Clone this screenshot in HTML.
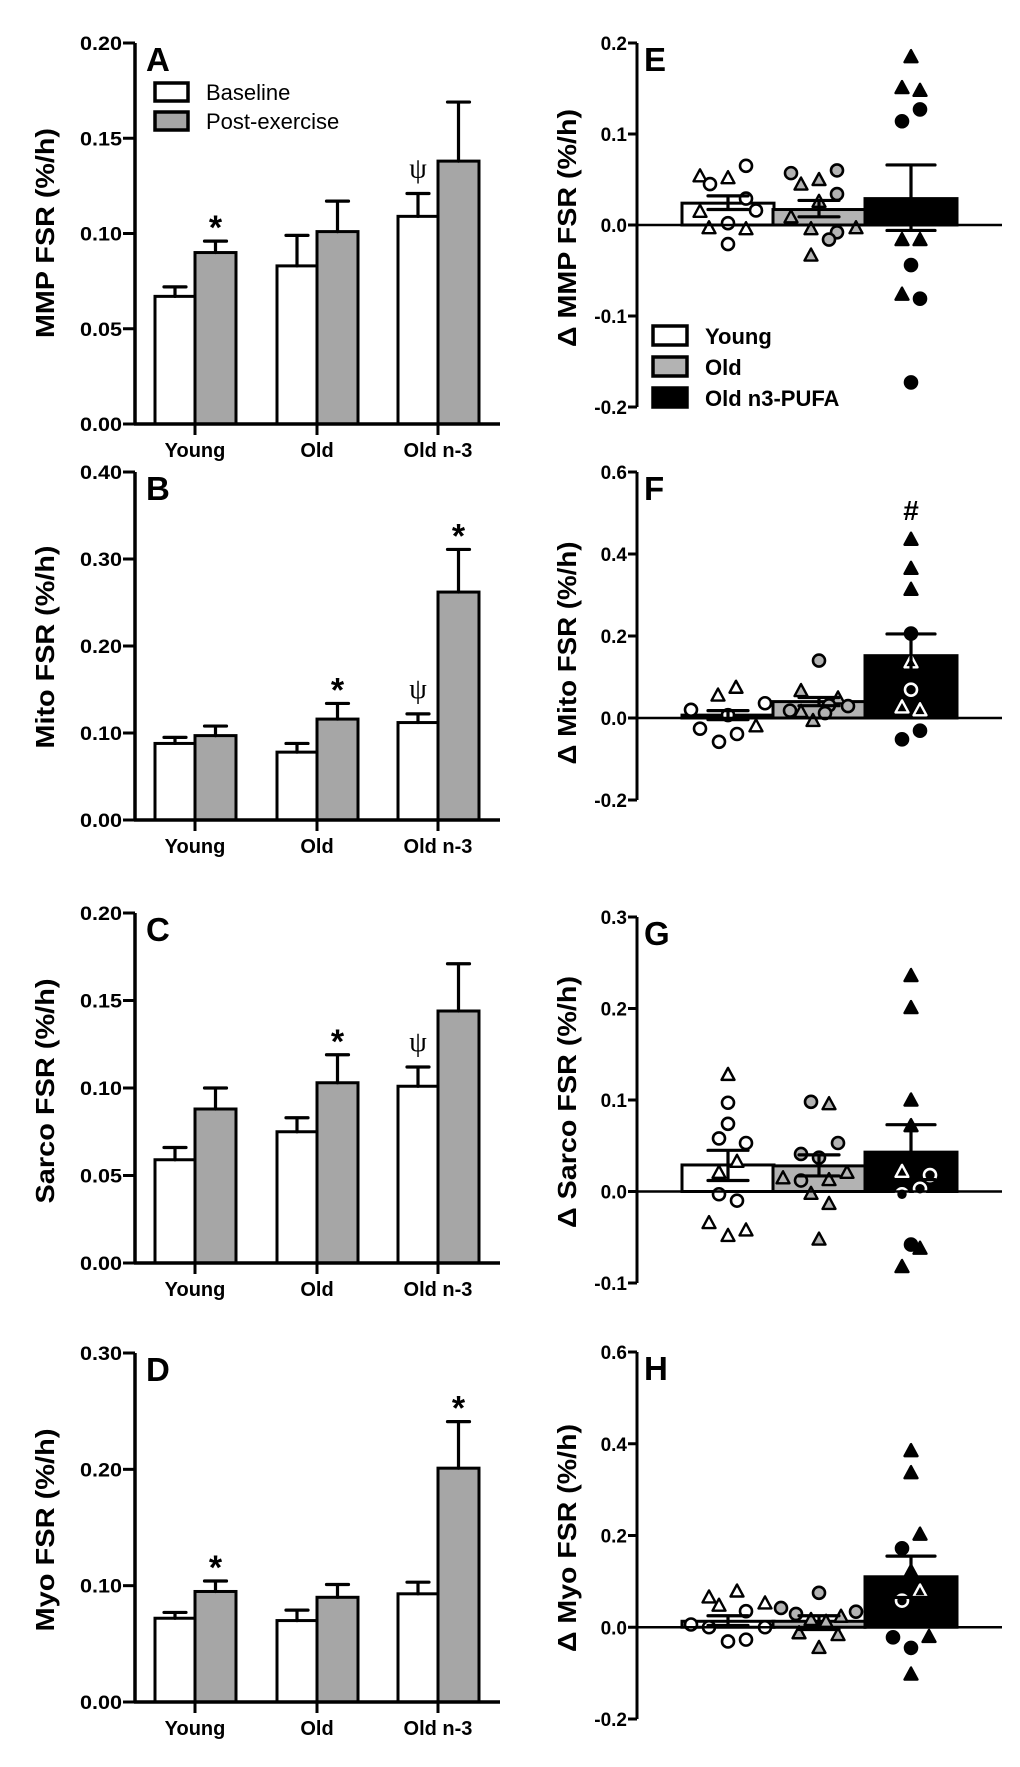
<!DOCTYPE html>
<html><head><meta charset="utf-8">
<style>
html,body{margin:0;padding:0;background:#fff;}
svg{display:block;font-family:"Liberation Sans",Arial,sans-serif;}
</style></head>
<body>
<svg id="fig" xmlns="http://www.w3.org/2000/svg" width="1020" height="1767" viewBox="0 0 1020 1767">
<rect x="0" y="0" width="1020" height="1767" fill="#fff"/>
</svg>
<script>
// ---------- data: left panels (group means, SEM tops) ----------
const categories = ['Young', 'Old', 'Old n-3'];
const A_base = [0.067, 0.083, 0.109];
const A_baseTop = [0.072, 0.099, 0.121];
const A_post = [0.090, 0.101, 0.138];
const A_postTop = [0.096, 0.117, 0.169];
const B_base = [0.088, 0.078, 0.112];
const B_baseTop = [0.095, 0.088, 0.122];
const B_post = [0.097, 0.116, 0.262];
const B_postTop = [0.108, 0.134, 0.311];
const C_base = [0.059, 0.075, 0.101];
const C_baseTop = [0.066, 0.083, 0.112];
const C_post = [0.088, 0.103, 0.144];
const C_postTop = [0.100, 0.119, 0.171];
const D_base = [0.072, 0.070, 0.093];
const D_baseTop = [0.077, 0.079, 0.103];
const D_post = [0.095, 0.090, 0.201];
const D_postTop = [0.104, 0.101, 0.241];
const A_ticks = ['0.00', '0.05', '0.10', '0.15', '0.20'];
const B_ticks = ['0.00', '0.10', '0.20', '0.30', '0.40'];
const C_ticks = ['0.00', '0.05', '0.10', '0.15', '0.20'];
const D_ticks = ['0.00', '0.10', '0.20', '0.30'];

// ---------- data: right panels (deltas) ----------
const groups = ['Young', 'Old', 'Old n3-PUFA'];
const E_mean = [0.024, 0.017, 0.029];
const E_semHi = [0.032, 0.027, 0.066];
const E_semLo = [0.017, 0.009, -0.006];
const E_young = [0.054, 0.045, 0.052, 0.065, 0.029, 0.016, 0.015, 0.002, -0.003, -0.004, -0.021];
const E_youngShape = ['t','c','t','c','c','c','t','c','t','t','c'];
const E_old = [0.057, 0.045, 0.050, 0.060, 0.034, 0.026, 0.009, -0.004, -0.008, -0.016, -0.003, -0.033];
const E_oldShape = ['c','t','t','c','c','t','t','t','c','c','t','t'];
const E_n3 = [0.185, 0.151, 0.148, 0.127, 0.114, -0.016, -0.016, -0.044, -0.076, -0.081, -0.173];
const E_n3Shape = ['t','t','t','c','c','t','t','c','t','c','c'];
const E_ticks = ['-0.2', '-0.1', '0.0', '0.1', '0.2'];

const F_mean = [0.007, 0.040, 0.152];
const F_semHi = [0.018, 0.050, 0.205];
const F_semLo = [-0.004, 0.030, 0.100];
const F_young = [0.020, 0.056, 0.075, 0.036, 0.007, -0.019, -0.026, -0.039, -0.058];
const F_youngShape = ['c','t','t','c','c','t','c','c','c'];
const F_old = [0.140, 0.067, 0.049, 0.018, 0.031, 0.029, -0.006, 0.012, 0.016];
const F_oldShape = ['c','t','t','c','c','c','t','c','t'];
const F_n3 = [0.436, 0.365, 0.314, 0.206, 0.137, 0.069, 0.027, 0.020, -0.031, -0.052];
const F_n3Shape = ['t','t','t','c','t','c','t','t','c','c'];
const F_ticks = ['-0.2', '0.0', '0.2', '0.4', '0.6'];

const G_mean = [0.029, 0.028, 0.043];
const G_semHi = [0.045, 0.040, 0.073];
const G_semLo = [0.012, 0.017, 0.013];
const G_young = [0.128, 0.097, 0.074, 0.058, 0.053, 0.033, 0.021, -0.003, -0.010, -0.034, -0.042, -0.048];
const G_youngShape = ['t','c','c','c','c','t','t','c','c','t','t','t'];
const G_old = [0.098, 0.096, 0.053, 0.041, 0.037, 0.021, 0.015, 0.012, 0.013, -0.002, -0.013, -0.052];
const G_oldShape = ['c','t','c','c','c','t','t','c','t','t','t','t'];
const G_n3 = [0.236, 0.201, 0.100, 0.072, 0.022, 0.018, 0.003, -0.003, -0.058, -0.062, -0.082];
const G_n3Shape = ['t','t','t','t','t','c','c','c','c','t','t'];
const G_ticks = ['-0.1', '0.0', '0.1', '0.2', '0.3'];

const H_mean = [0.013, 0.013, 0.110];
const H_semHi = [0.025, 0.025, 0.155];
const H_semLo = [0.004, -0.005, 0.065];
const H_young = [0.066, 0.048, 0.079, 0.035, 0.053, 0.006, 0.000, 0.000, -0.031, -0.027];
const H_youngShape = ['t','t','t','c','t','c','c','c','c','c'];
const H_old = [0.075, 0.042, 0.029, 0.034, 0.024, 0.017, 0.013, -0.012, -0.016, -0.044];
const H_oldShape = ['c','c','c','c','t','t','t','t','t','t'];
const H_n3 = [0.385, 0.337, 0.203, 0.172, 0.122, 0.079, 0.058, -0.022, -0.020, -0.045, -0.102];
const H_n3Shape = ['t','t','t','c','t','t','c','c','t','c','t'];
const H_ticks = ['-0.2', '0.0', '0.2', '0.4', '0.6'];

// horizontal jitter (layout offsets, px)
const jE = [[-28,-18,0,18,18,28,-28,0,-19,18,0],[-28,-18,0,18,18,0,-28,-8,18,10,37,-8],[0,-9,9,9,-9,-9,9,0,-9,9,0]];
const jF = [[-37,-10,8,37,0,28,-28,9,-9],[0,-18,19,-29,10,29,-6,6,-18],[0,0,0,0,0,0,-9,9,9,-9]];
const jG = [[0,0,0,-9,18,9,-9,-9,9,-19,18,0],[-8,10,19,-18,0,28,-36,-18,10,-8,10,0],[0,0,0,0,-9,19,9,-9,0,9,-9]];
const jH = [[-19,-9,9,18,37,-37,-19,37,0,18],[0,-38,-23,37,22,-8,7,-20,19,0],[0,0,9,-9,0,9,-9,-18,18,0,0]];

const NS = 'http://www.w3.org/2000/svg';
const svg = document.getElementById('fig');
function mk(tag, attrs, parent) {
  const e = document.createElementNS(NS, tag);
  for (const k in attrs) e.setAttribute(k, attrs[k]);
  (parent || svg).appendChild(e);
  return e;
}
function txt(s, attrs, parent) { const t = mk('text', attrs, parent); t.textContent = s; return t; }

// ---------- left panels ----------
function leftPanel(id, letter, ylabel, top, zero, vmax, ticks, base, baseTop, post, postTop, stars, psi, labelLen, labelY) {
  const g = mk('g', {});
  
  
  const y = v => zero - (zero - top) * v / vmax;
  const ax = 135, xend = 500, centers = [195, 317, 438];
  for (let i = 0; i < categories.length; i++) {
    const c = centers[i];
    const b = mk('rect', {x: c - 40, y: y(base[i]), width: 40, height: zero - y(base[i]), fill: '#fff', stroke: '#000', 'stroke-width': 3}, g);
    
    
    const p = mk('rect', {x: c, y: y(post[i]), width: 41, height: zero - y(post[i]), fill: '#a6a6a6', stroke: '#000', 'stroke-width': 3}, g);
    
    
    [[c - 20, base[i], baseTop[i]], [c + 20.5, post[i], postTop[i]]].forEach(e => {
      const eb = mk('path', {d: `M${e[0]} ${y(e[1])}V${y(e[2])}M${e[0]-11} ${y(e[2])}H${e[0]+11}`, stroke: '#000', 'stroke-width': 3.2, fill: 'none', 'stroke-linecap': 'round'}, g);
      
      
    });
  }
  stars.forEach(s => {
    const x = centers[s[0]] + (s[1] ? 20.5 : -20);
    const top2 = s[1] ? postTop[s[0]] : baseTop[s[0]];
    const st = txt('*', {x: x, y: y(top2) - 2, 'font-size': 34, 'font-weight': 'bold', 'text-anchor': 'middle'}, g);
    
    
  });
  psi.forEach(i => {
    const ps = txt('ψ', {x: centers[i] - 20, y: y(baseTop[i]) - 16, 'font-size': 28, 'font-family': '"Liberation Serif",serif', 'text-anchor': 'middle'}, g);
    
    
  });
  const yaxis = mk('path', {d: `M${ax} ${top}V${zero}`, stroke: '#000', 'stroke-width': 3.5}, g);
  
  
  const xaxis = mk('path', {d: `M${ax - 1} ${zero}H${xend}`, stroke: '#000', 'stroke-width': 3.5}, g);
  
  
  ticks.forEach((t, i) => {
    const v = vmax * i / (ticks.length - 1);
    mk('path', {d: `M${ax - 12} ${y(v)}H${ax}`, stroke: '#000', 'stroke-width': 3}, g);
    const tl = txt(t, {x: ax - 13, y: y(v) + 7, 'font-size': 19, 'font-weight': 'bold', 'text-anchor': 'end', textLength: 42, lengthAdjust: 'spacingAndGlyphs'}, g);
    
    
  });
  categories.forEach((c, i) => {
    mk('path', {d: `M${centers[i]} ${zero}V${zero + 11}`, stroke: '#000', 'stroke-width': 3}, g);
    const cl = txt(c, {x: centers[i], y: zero + 33, 'font-size': 20, 'font-weight': 'bold', 'text-anchor': 'middle'}, g);
    
    
  });
  const yl = txt(ylabel, {x: 0, y: 0, 'font-size': 26, 'font-weight': 'bold', 'text-anchor': 'middle', textLength: labelLen, lengthAdjust: 'spacingAndGlyphs', transform: `translate(54,${labelY}) rotate(-90)`}, g);
  
  
  const pl = txt(letter, {x: 146, y: top + 28, 'font-size': 33, 'font-weight': 'bold'}, g);
  
  
}

leftPanel('A', 'A', 'MMP FSR (%/h)', 43, 424, 0.20, A_ticks, A_base, A_baseTop, A_post, A_postTop, [[0, 1]], [2], 210, 233);
leftPanel('B', 'B', 'Mito FSR (%/h)', 472, 820, 0.40, B_ticks, B_base, B_baseTop, B_post, B_postTop, [[1, 1], [2, 1]], [2], 203, 647);
leftPanel('C', 'C', 'Sarco FSR (%/h)', 913, 1263, 0.20, C_ticks, C_base, C_baseTop, C_post, C_postTop, [[1, 1]], [2], 225, 1091);
leftPanel('D', 'D', 'Myo FSR (%/h)', 1353, 1702, 0.30, D_ticks, D_base, D_baseTop, D_post, D_postTop, [[0, 1], [2, 1]], [], 203, 1530);

(function () {
  const g = mk('g', {});
  
  
  mk('rect', {x: 155, y: 83, width: 33, height: 18, fill: '#fff', stroke: '#000', 'stroke-width': 3.5}, g);
  mk('rect', {x: 155, y: 112, width: 33, height: 18, fill: '#a6a6a6', stroke: '#000', 'stroke-width': 3.5}, g);
  const t1 = txt('Baseline', {x: 206, y: 100, 'font-size': 22}, g);
  
  
  const t2 = txt('Post-exercise', {x: 206, y: 129, 'font-size': 22}, g);
  
  
})();

// ---------- right panels ----------
const gFill = ['#fff', '#b3b3b3', '#000'];
function marker(g, shape, x, yy, fill, stroke) {
  let m;
  if (shape === 'c') m = mk('circle', {cx: x, cy: yy, r: 6, fill: fill, stroke: stroke, 'stroke-width': 2.6}, g);
  else m = mk('path', {d: `M${x} ${yy - 6.5}L${x - 6.5} ${yy + 5.5}L${x + 6.5} ${yy + 5.5}Z`, fill: fill, stroke: stroke, 'stroke-width': 2.4, 'stroke-linejoin': 'round'}, g);
  
  
}
function rightPanel(letter, ylabel, top, vTop, bot, vBot, ticks, mean, hi, lo, pts, shapes, jit, labelLen, labelY) {
  const g = mk('g', {});
  
  
  const y = v => top + (bot - top) * (vTop - v) / (vTop - vBot);
  const ax = 637, centers = [728, 819, 911], w = 92;
  for (let i = 0; i < 3; i++) {
    const y0 = y(0), ym = y(mean[i]);
    const b = mk('rect', {x: centers[i] - w / 2, y: Math.min(y0, ym), width: w, height: Math.abs(y0 - ym), fill: gFill[i], stroke: '#000', 'stroke-width': 3}, g);
    
    
  }
  for (let i = 0; i < 3; i++) {
    pts[i].forEach((v, k) => {
      const x = centers[i] + jit[i][k];
      if (i === 2) {
        const inside = v > -0.01 && v < mean[2];
        marker(g, shapes[i][k], x, y(v), '#000', inside ? '#fff' : '#000');
      } else marker(g, shapes[i][k], x, y(v), gFill[i], '#000');
    });
  }
  for (let i = 0; i < 3; i++) {
    const c = centers[i], cw = i === 2 ? 24 : 20;
    const eb = mk('path', {d: `M${c} ${y(lo[i])}V${y(hi[i])}M${c - cw} ${y(hi[i])}H${c + cw}M${c - cw} ${y(lo[i])}H${c + cw}`, stroke: '#000', 'stroke-width': 3.2, fill: 'none', 'stroke-linecap': 'round'}, g);
    
    
  }
  const zl = mk('path', {d: `M${ax} ${y(0)}H1002`, stroke: '#000', 'stroke-width': 2.5}, g);
  
  
  const ya = mk('path', {d: `M${ax} ${top}V${bot}`, stroke: '#000', 'stroke-width': 3}, g);
  
  
  ticks.forEach((t, i) => {
    const v = vBot + (vTop - vBot) * i / (ticks.length - 1);
    mk('path', {d: `M${ax - 9} ${y(v)}H${ax}`, stroke: '#000', 'stroke-width': 3}, g);
    const tl = txt(t, {x: ax - 10, y: y(v) + 7, 'font-size': 19, 'font-weight': 'bold', 'text-anchor': 'end'}, g);
    
    
  });
  const yl = txt(ylabel, {x: 0, y: 0, 'font-size': 26, 'font-weight': 'bold', 'text-anchor': 'middle', textLength: labelLen, lengthAdjust: 'spacingAndGlyphs', transform: `translate(576,${labelY}) rotate(-90)`}, g);
  
  
  const pl = txt(letter, {x: 644, y: top + 28, 'font-size': 33, 'font-weight': 'bold'}, g);
  
  
  return y;
}

rightPanel('E', 'Δ MMP FSR (%/h)', 43, 0.2, 407, -0.2, E_ticks, E_mean, E_semHi, E_semLo, [E_young, E_old, E_n3], [E_youngShape, E_oldShape, E_n3Shape], jE, 238, 228);
const yF = rightPanel('F', 'Δ Mito FSR (%/h)', 472, 0.6, 800, -0.2, F_ticks, F_mean, F_semHi, F_semLo, [F_young, F_old, F_n3], [F_youngShape, F_oldShape, F_n3Shape], jF, 223, 653);
rightPanel('G', 'Δ Sarco FSR (%/h)', 917, 0.3, 1283, -0.1, G_ticks, G_mean, G_semHi, G_semLo, [G_young, G_old, G_n3], [G_youngShape, G_oldShape, G_n3Shape], jG, 252, 1102);
rightPanel('H', 'Δ Myo FSR (%/h)', 1352, 0.6, 1719, -0.2, H_ticks, H_mean, H_semHi, H_semLo, [H_young, H_old, H_n3], [H_youngShape, H_oldShape, H_n3Shape], jH, 228, 1538);

const hash = txt('#', {x: 911, y: yF(F_semHi[2]) - 114, 'font-size': 28, 'font-weight': 'bold', 'text-anchor': 'middle'});



(function () {
  const g = mk('g', {});
  
  
  const ys = [326, 357, 388];
  groups.forEach((n, i) => {
    mk('rect', {x: 653, y: ys[i], width: 34, height: 19, fill: gFill[i], stroke: '#000', 'stroke-width': 3.5}, g);
    const t = txt(n, {x: 705, y: ys[i] + 18, 'font-size': 22, 'font-weight': 'bold'}, g);
    
    
  });
})();
</script>
</body></html>
